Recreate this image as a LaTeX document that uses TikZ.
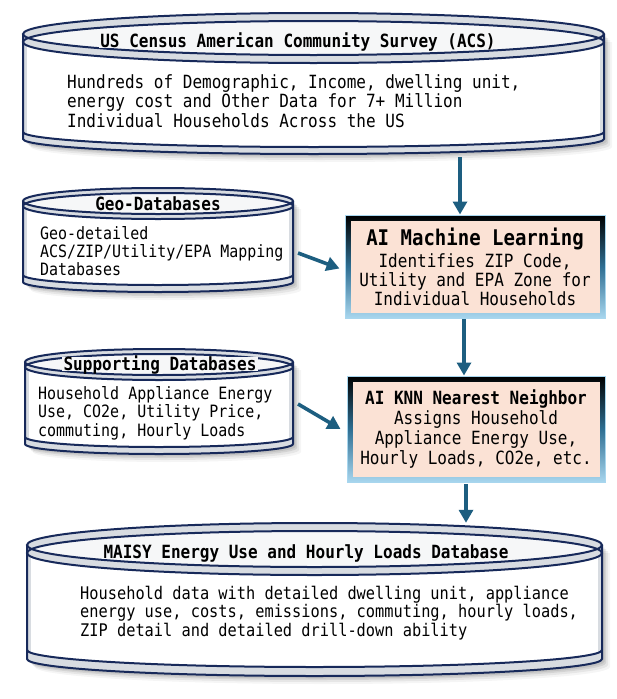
\documentclass[tikz,border=0pt]{standalone}
\usepackage{fontspec}
\setmonofont{DejaVu Sans Mono}[FakeStretch=0.88]
\usetikzlibrary{arrows.meta}
\definecolor{navy}{HTML}{17295A}
\definecolor{bandgray}{HTML}{D8DCE1}
\definecolor{lidfill}{HTML}{F6F7F8}
\definecolor{arrowc}{HTML}{1D5E80}
\definecolor{peach}{HTML}{FBE2D5}
\definecolor{framelb}{HTML}{A8D6EE}
\definecolor{framemid}{HTML}{2E6E92}
\tikzset{
  cylline/.style={draw=navy,line width=2pt},
  arr/.style={draw=arrowc,line width=3.6pt,-{Triangle[length=13pt,width=14pt]}},
  aibox/.style={rectangle, draw=framelb, line width=1pt, top color=black, bottom color=framelb, middle color=framemid,
    inner sep=0pt, align=center, font=\ttfamily\fontsize{18.2}{19}\selectfont,
    path picture={\fill[peach] ([shift={(6pt,-6pt)}]path picture bounding box.north west) rectangle ([shift={(-5pt,5pt)}]path picture bounding box.south east);}},
  cyltitle/.style={font=\ttfamily\bfseries\fontsize{18.2}{19}\selectfont, fill=lidfill, inner xsep=1.5pt, inner ysep=0.2pt,
    text height=13.2pt, text depth=0pt},
  cyltext/.style={font=\ttfamily\fontsize{17}{18.5}\selectfont, align=left, inner sep=0pt, anchor=west},
  hull/.style={inner sep=0pt, draw=none}
}
% full ellipse with centre (\cx,#2), radii (\ca,#3)
\newcommand\ellip[3]{%
  \pgfmathsetmacro\kb{0.5523*(#3)}%
  \path[#1] (\cx-\ca,#2) .. controls (\cx-\ca,#2-\kb) and (\cx-\ka,#2-#3) .. (\cx,#2-#3)
    .. controls (\cx+\ka,#2-#3) and (\cx+\ca,#2-\kb) .. (\cx+\ca,#2)
    .. controls (\cx+\ca,#2+\kb) and (\cx+\ka,#2+#3) .. (\cx,#2+#3)
    .. controls (\cx-\ka,#2+#3) and (\cx-\ca,#2+\kb) .. (\cx-\ca,#2) -- cycle;}
% #1 name #2 L #3 R #4 T #5 ry #6 yb #7 rb #8 gap #9 lid shift
\newcommand\dbcyl[9]{%
  \pgfmathsetmacro\cx{(#2+#3)/2}%
  \pgfmathsetmacro\ca{(#3-#2)/2}%
  \pgfmathsetmacro\ka{0.5523*(#3-#2)/2}%
  \pgfmathsetmacro\kr{0.5523*#7}%
  \pgfmathsetmacro\cw{#3-#2}%
  \pgfmathsetmacro\cyt{#4+#5}%
  \pgfmathsetmacro\cyi{#4+#5+#9}%
  \pgfmathsetmacro\cyb{#6+#8}%
  \pgfmathsetmacro\hh{#6+#8+#7-#4}%
  \pgfmathsetmacro\cmid{(#4+#6+#8+#7)/2}%
  \foreach \s/\op in {8/0.04,6/0.06,4/0.08,2.5/0.08}{%
    \fill[black,opacity=\op] (#2+\s,\cyt+\s) -- (#2+\s,\cyb+\s)
      .. controls (#2+\s,\cyb+\s+\kr) and (\cx-\ka+\s,\cyb+#7+\s) .. (\cx+\s,\cyb+#7+\s)
      .. controls (\cx+\ka+\s,\cyb+#7+\s) and (#3+\s,\cyb+\kr+\s) .. (#3+\s,\cyb+\s) -- (#3+\s,\cyt+\s) -- cycle;}
  \fill[white] (#2,\cyt) -- (#2,#6)
      .. controls (#2,#6+\kr) and (\cx-\ka,#6+#7) .. (\cx,#6+#7)
      .. controls (\cx+\ka,#6+#7) and (#3,#6+\kr) .. (#3,#6) -- (#3,\cyt) -- cycle;
  \fill[bandgray] (#2,#6)
      .. controls (#2,#6+\kr) and (\cx-\ka,#6+#7) .. (\cx,#6+#7)
      .. controls (\cx+\ka,#6+#7) and (#3,#6+\kr) .. (#3,#6) -- (#3,\cyb)
      .. controls (#3,\cyb+\kr) and (\cx+\ka,\cyb+#7) .. (\cx,\cyb+#7)
      .. controls (\cx-\ka,\cyb+#7) and (#2,\cyb+\kr) .. (#2,\cyb) -- cycle;
  \draw[bandgray,line width=2.5pt] (#2+2.5,\cyt) -- (#2+2.5,#6+2);
  \draw[bandgray,line width=2.5pt] (#3-2.5,\cyt) -- (#3-2.5,#6+2);
  \draw[cylline] (#2,\cyt) -- (#2,\cyb)
      .. controls (#2,\cyb+\kr) and (\cx-\ka,\cyb+#7) .. (\cx,\cyb+#7)
      .. controls (\cx+\ka,\cyb+#7) and (#3,\cyb+\kr) .. (#3,\cyb) -- (#3,\cyt);
  \draw[cylline] (#2,#6)
      .. controls (#2,#6+\kr) and (\cx-\ka,#6+#7) .. (\cx,#6+#7)
      .. controls (\cx+\ka,#6+#7) and (#3,#6+\kr) .. (#3,#6);
  \ellip{fill=bandgray}{\cyt}{#5}%
  \ellip{fill=bandgray}{\cyi}{#5}%
  \begin{scope}
    \ellip{clip}{\cyt}{#5}%
    \ellip{fill=lidfill}{\cyi}{#5}%
  \end{scope}
  \ellip{cylline}{\cyt}{#5}%
  \ellip{cylline}{\cyi}{#5}%
  \node[hull,minimum width=\cw pt,minimum height=\hh pt] (#1) at (\cx,\cmid) {};
}
\begin{document}
\begin{tikzpicture}[x=1pt,y=-1pt]
\fill[white] (0,0) rectangle (616,699);
\useasboundingbox (0,0) rectangle (616,699);

\dbcyl{acs}{23}{604}{13}{21}{132}{15}{7}{8}
\dbcyl{geo}{23}{293}{188}{13}{275}{10}{7}{5}
\dbcyl{sup}{25}{293}{349}{13}{437}{10}{7}{5}
\dbcyl{maisy}{27}{602}{523}{22}{650}{17}{9}{8}

\node[aibox, minimum width=260pt, minimum height=103pt] (ml) at (475,266.5)
  {{\bfseries\fontsize{21.6}{19}\selectfont AI Machine Learning}\\[3pt]Identifies ZIP Code,\\Utility and EPA Zone for\\Individual Households};
\node[aibox, minimum width=258pt, minimum height=106pt, font=\ttfamily\fontsize{18.2}{20}\selectfont] (knn) at (476,429)
  {\textbf{AI KNN Nearest Neighbor}\\Assigns Household\\Appliance Energy Use,\\Hourly Loads, CO2e, etc.};

\node[cyltitle] (acst) at (298,41) {US Census American Community Survey (ACS)};
\node[cyltext, font=\ttfamily\fontsize{18.2}{19.5}\selectfont] (acsb) at (67,101)
  {Hundreds of Demographic, Income, dwelling unit,\\energy cost and Other Data for 7+ Million\\Individual Households Across the US};
\node[cyltitle] (geot) at (158,204) {Geo-Databases};
\node[cyltext, font=\ttfamily\fontsize{17}{18}\selectfont] (geob) at (40,251)
  {Geo-detailed\\ACS/ZIP/Utility/EPA Mapping\\Databases};
\node[cyltitle] (supt) at (160,364) {Supporting Databases};
\node[cyltext] (supb) at (38,413)
  {Household Appliance Energy\\Use, CO2e, Utility Price,\\commuting, Hourly Loads};
\node[cyltitle] (maisyt) at (306,552) {MAISY Energy Use and Hourly Loads Database};
\node[cyltext, font=\ttfamily\fontsize{17.4}{18.5}\selectfont] (maisyb) at (80,613)
  {Household data with detailed dwelling unit, appliance\\energy use, costs, emissions, commuting, hourly loads,\\ZIP detail and detailed drill-down ability};

\coordinate (a1) at (460,157);
\coordinate (a2) at (464,319);
\coordinate (a3) at (466,484);
\coordinate (a4) at (298,253);
\coordinate (a5) at (298,404);
\draw[arr] (a1) -- (a1 |- ml.north);
\draw[arr] (a2) -- (a2 |- knn.north);
\draw[arr] (a3) -- (a3 |- maisy.north);
\draw[arr] (a4) -- ([xshift=-5pt,yshift=-2pt]ml.west);
\draw[arr] (a5) -- ([xshift=-6pt]knn.west);
\end{tikzpicture}
\end{document}
